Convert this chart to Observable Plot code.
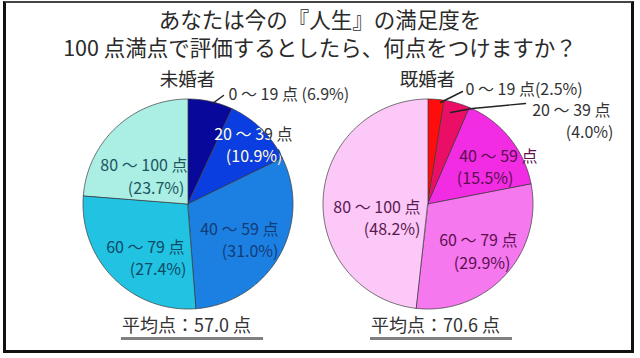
<!DOCTYPE html>
<html><head><meta charset="utf-8">
<script src="https://cdn.jsdelivr.net/npm/d3@7"></script>
<script src="https://cdn.jsdelivr.net/npm/@observablehq/plot@0.6"></script>
<style>
html,body{margin:0;padding:0;background:#fff;width:640px;height:358px;overflow:hidden;}
#frame{position:absolute;left:3px;top:1px;width:625px;height:347px;border:3px solid #111;border-top:2px solid #444;}
#title{position:absolute;left:0;top:5px;width:640px;text-align:center;font-family:"Noto Sans CJK JP",sans-serif;font-size:21.5px;line-height:28px;color:#2a2a2a;}
#chart{position:absolute;left:0;top:58px;}
</style></head>
<body>
<div id="frame"></div>
<div id="title">あなたは今の『人生』の満足度を<br>100 点満点で評価するとしたら、何点をつけますか？</div>
<div id="chart"></div>
<script>
// ---- data ----
const groups = ["未婚者", "既婚者"];
const categories = ["0～19点", "20～39点", "40～59点", "60～79点", "80～100点"];
const categoryLabels = ["0 ～ 19 点", "20 ～ 39 点", "40 ～ 59 点", "60 ～ 79 点", "80 ～ 100 点"];
const unmarried = [6.9, 10.9, 31.0, 27.4, 23.7];
const married = [2.5, 4.0, 15.5, 29.9, 48.2];
const averages = [57.0, 70.6];
const unmarriedColors = ["#08089a", "#0a3ee0", "#1c80e2", "#22c2e2", "#aaeee4"];
const marriedColors = ["#ff0c0c", "#ea0e66", "#f22ce2", "#f678ee", "#fcc8f8"];
const unmarriedTextColors = ["#333", "#ffffff", "#123c78", "#0e4a66", "#1c5660"];
const marriedTextColors = ["#333", "#333", "#5a1050", "#5a1050", "#5a1a50"];

// ---- layout ----
const W = 640, TOP = 58, H = 296;
const centers = [[188, 204], [428, 204]];
const R = 105;
const FS = 16;
const labelLayout = [
  [{out: true, dx: 40, dy: -110}, {l1: [104, -70], l2: [94, -48]}, {l1: [90, 25], l2: [90, 47]}, {l1: [-4, 43], l2: [-2, 65]}, {l1: [-1, -39], l2: [-4, -16]}],
  [{out: true, dx: 37, dy: -115, nospace: true}, {l1: [182, -94], l2: [185, -72]}, {l1: [109, -48], l2: [85, -26]}, {l1: [89, 36], l2: [82, 59]}, {l1: [-8, 3], l2: [-8, 25]}]
];
const leaders = [
  [[0, 24, -101], [0, 35, -109]],
  [[1, 12, -102], [1, 34, -113]],
  [[1, 22, -92], [1, 44, -96], [1, 97, -101]]
];

const seriesValues = [unmarried, married];
const seriesColors = [unmarriedColors, marriedColors];
const seriesText = [unmarriedTextColors, marriedTextColors];

// wedge polygons
const wedges = [];
const keys = [], colors = [];
seriesValues.forEach((vals, g) => {
  const total = d3.sum(vals);
  const [cx, cy] = centers[g];
  let acc = 0;
  vals.forEach((v, i) => {
    const key = groups[g] + categories[i];
    keys.push(key); colors.push(seriesColors[g][i]);
    const a0 = acc / total * 2 * Math.PI;
    acc += v;
    const a1 = acc / total * 2 * Math.PI;
    const n = Math.max(2, Math.ceil((a1 - a0) / (Math.PI / 180)));
    for (let k = 0; k <= n; k++) {
      const a = a0 + (a1 - a0) * k / n;
      wedges.push({key, x1: cx, y1: cy, x2: cx + R * Math.sin(a), y2: cy - R * Math.cos(a)});
    }
  });
});

// labels
const endLabels = [], startLabels = [], whiteLabels = [];
seriesValues.forEach((vals, g) => {
  const [cx, cy] = centers[g];
  vals.forEach((v, i) => {
    const L = labelLayout[g][i];
    const pct = "(" + v.toFixed(1) + "%)";
    const fill = seriesText[g][i];
    if (L.out) {
      startLabels.push({text: categoryLabels[i] + (L.nospace ? "" : " ") + pct, x: cx + L.dx, y: cy + L.dy, fill});
    } else {
      const rows = [{text: categoryLabels[i], x: cx + L.l1[0], y: cy + L.l1[1], fill, g},
                    {text: pct, x: cx + L.l2[0], y: cy + L.l2[1], fill, g}];
      if (fill === "#ffffff") {
        rows.forEach(r => { endLabels.push({...r, fill: "#333"}); whiteLabels.push(r); });
      } else rows.forEach(r => endLabels.push(r));
    }
  });
});

const leaderPts = leaders.flatMap((pts, j) => pts.map(([g, dx, dy]) => ({id: j, x: centers[g][0] + dx, y: centers[g][1] + dy})));

const titles = groups.map((t, g) => ({text: t, x: centers[g][0] - 1, y: 80}));
const avgRows = averages.map((a, g) => ({text: "平均点：" + a.toFixed(1) + " 点", x: centers[g][0] - 2 + (g ? 9 : 0), y: 326}));
const underline = averages.map((a, g) => ({y: 338, x1: centers[g][0] - 67 + (g ? 9 : 0), x2: centers[g][0] + 75 + (g ? 9 : 0)}));

const font = '"Noto Sans CJK JP", sans-serif';

const plot = Plot.plot({
  width: W, height: H,
  margin: 0,
  style: {background: "transparent", fontFamily: font, overflow: "visible"},
  x: {domain: [0, W], range: [0, W], axis: null},
  y: {domain: [TOP, TOP + H], range: [0, H], axis: null},
  color: {type: "ordinal", domain: keys, range: colors},
  marks: [
    Plot.area(wedges, {x1: "x1", y1: "y1", x2: "x2", y2: "y2", z: "key", fill: "key", stroke: "#3a3a3a", strokeWidth: 0.7, strokeLinejoin: "round"}),
    Plot.line(leaderPts, {x: "x", y: "y", z: "id", stroke: "#222", strokeWidth: 1.4}),
    Plot.text(endLabels, {x: "x", y: "y", text: "text", fill: d => d.fill, textAnchor: "end", fontSize: FS}),
    Plot.text(whiteLabels, {x: "x", y: "y", text: "text", fill: "#ffffff", textAnchor: "end", fontSize: FS}),
    Plot.text(startLabels, {x: "x", y: "y", text: "text", fill: d => d.fill, textAnchor: "start", fontSize: FS}),
    Plot.text(titles, {x: "x", y: "y", text: "text", fill: "#2a2a2a", fontSize: 18.5}),
    Plot.text(avgRows, {x: "x", y: "y", text: "text", fill: "#333", fontSize: 18}),
    Plot.ruleY(underline, {y: "y", x1: "x1", x2: "x2", stroke: "#808080", strokeWidth: 3})
  ]
});

// clip the white-label group to the left pie disc (position from the plot's own scales)
const sx = plot.scale("x"), sy = plot.scale("y");
const ns = "http://www.w3.org/2000/svg";
const defs = document.createElementNS(ns, "defs");
const cp = document.createElementNS(ns, "clipPath");
cp.setAttribute("id", "pieclip0");
cp.setAttribute("clipPathUnits", "userSpaceOnUse");
const c = document.createElementNS(ns, "circle");
c.setAttribute("cx", sx.apply(centers[0][0]));
c.setAttribute("cy", sy.apply(centers[0][1]));
c.setAttribute("r", sx.apply(centers[0][0] + R) - sx.apply(centers[0][0]) - 0.5);
cp.appendChild(c); defs.appendChild(cp);
plot.insertBefore(defs, plot.firstChild);
const isWhite = el => {
  const f = (el.getAttribute("fill") || "").toLowerCase().replace(/\s/g, "");
  return f === "#ffffff" || f === "#fff" || f === "white" || f === "rgb(255,255,255)";
};
const whiteGroups = Array.from(plot.querySelectorAll("g")).filter(isWhite);
whiteGroups.forEach(wg => {
  const wrap = document.createElementNS(ns, "g");
  wrap.setAttribute("clip-path", "url(#pieclip0)");
  wg.parentNode.insertBefore(wrap, wg);
  wrap.appendChild(wg);
});
document.getElementById("chart").appendChild(plot);
</script>
</body></html>
